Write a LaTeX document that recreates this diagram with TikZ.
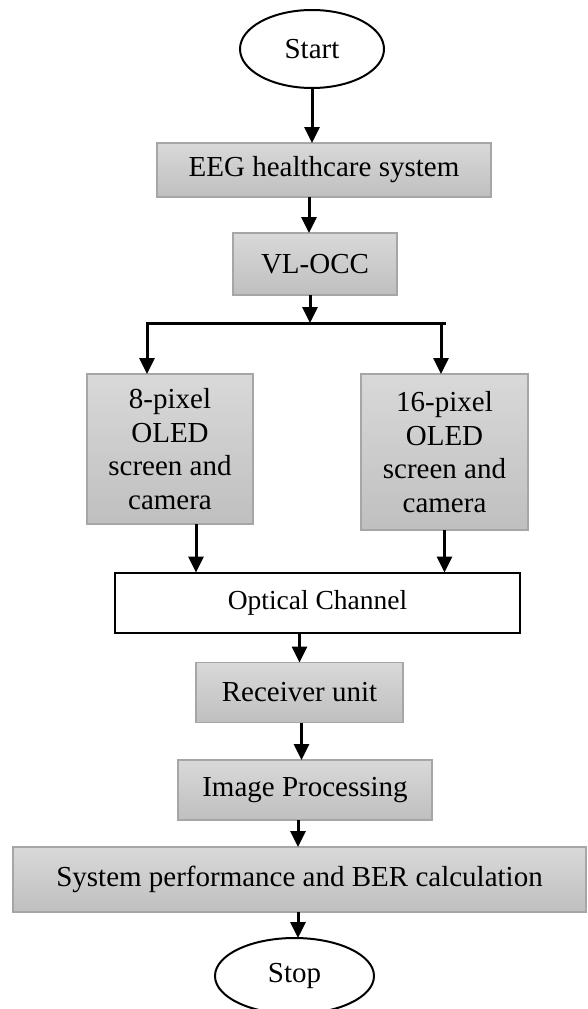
\documentclass[tikz,border=0pt]{standalone}
\usepackage{fontspec}
\setmainfont{Liberation Serif}
\usetikzlibrary{
  calc,
  arrows.meta,
  positioning,
  shapes.geometric,
}
\tikzset{
  base/.style = {font=\fontsize{29}{33.5}\selectfont, inner sep=0pt,
      outer sep=0pt, align=center},
  gbox/.style = {base, rectangle, top color=gray!30, bottom color=gray!50,
      draw=gray!70, line width=1.3pt},
  wbox/.style = {base, rectangle, fill=white, draw=black, line width=2pt},
  term/.style = {base, ellipse, draw=black, line width=2pt, fill=white},
  arr/.style = {-{Triangle[length=16pt,width=15pt]}, line width=3pt},
}
\begin{document}
\begin{tikzpicture}[x=1pt, y=-1pt]
  \useasboundingbox (0,0) rectangle (587,1009);

  \node[term, minimum width=144, minimum height=78] (start) at (312,49) {Start};
  \node[gbox, minimum width=334, minimum height=54] (eeg) at (324,170)
      {EEG healthcare system};
  \node[gbox, minimum width=164, minimum height=62] (vl) at (315,264) {VL-OCC};
  \node[gbox, minimum width=166, minimum height=150] (px8) at (170,449)
      {8-pixel\\OLED\\screen and\\camera};
  \node[gbox, minimum width=167, minimum height=156] (px16) at (444.5,452)
      {16-pixel\\OLED\\screen and\\camera};
  \node[wbox, minimum width=405, minimum height=60,
      font=\fontsize{27.5}{31}\selectfont] (opt) at (317.5,602.5) {Optical Channel};
  \node[gbox, minimum width=207, minimum height=60] (recv) at (299.5,692.5)
      {Receiver unit};
  \node[gbox, minimum width=254, minimum height=60] (imgp) at (305,790)
      {Image Processing};
  \node[gbox, minimum width=573, minimum height=65] (sys) at (299.5,879.5)
      {System performance and BER calculation};
  \node[term, minimum width=159, minimum height=76] (stop) at (294.5,976) {Stop};

  \coordinate (split) at (310,323);

  % main line
  \draw[arr] (start.south) -- (start.south |- eeg.north);
  \draw[arr] ([xshift=-6pt]vl.north |- eeg.south) -- ([xshift=-6pt]vl.north);
  \draw[arr] ([xshift=-5pt]vl.south) -- (split);

  % two branches
  \draw[line width=3pt, line cap=rect] ([xshift=-23pt]px8.north |- split)
      -- (px16.north |- split);
  \draw[arr] (split) -| ([xshift=-23pt]px8.north);
  \draw[arr] (split) -| ([xshift=-3.5pt]px16.north);
  \draw[arr] ([xshift=26pt]px8.south) -- ([xshift=26pt]px8.south |- opt.north);
  \draw[arr] (px16.south) -- (px16.south |- opt.north);

  \draw[arr] (recv.north |- opt.south) -- (recv.north);
  \draw[arr] ([xshift=2pt]recv.south) -- ([xshift=2pt]recv.south |- imgp.north);
  \draw[arr] ([xshift=-7pt]imgp.south) -- ([xshift=-7pt]imgp.south |- sys.north);
  \draw[arr] ([xshift=3.5pt]stop.north |- sys.south) -- ([xshift=3.5pt]stop.north);
\end{tikzpicture}
\end{document}
